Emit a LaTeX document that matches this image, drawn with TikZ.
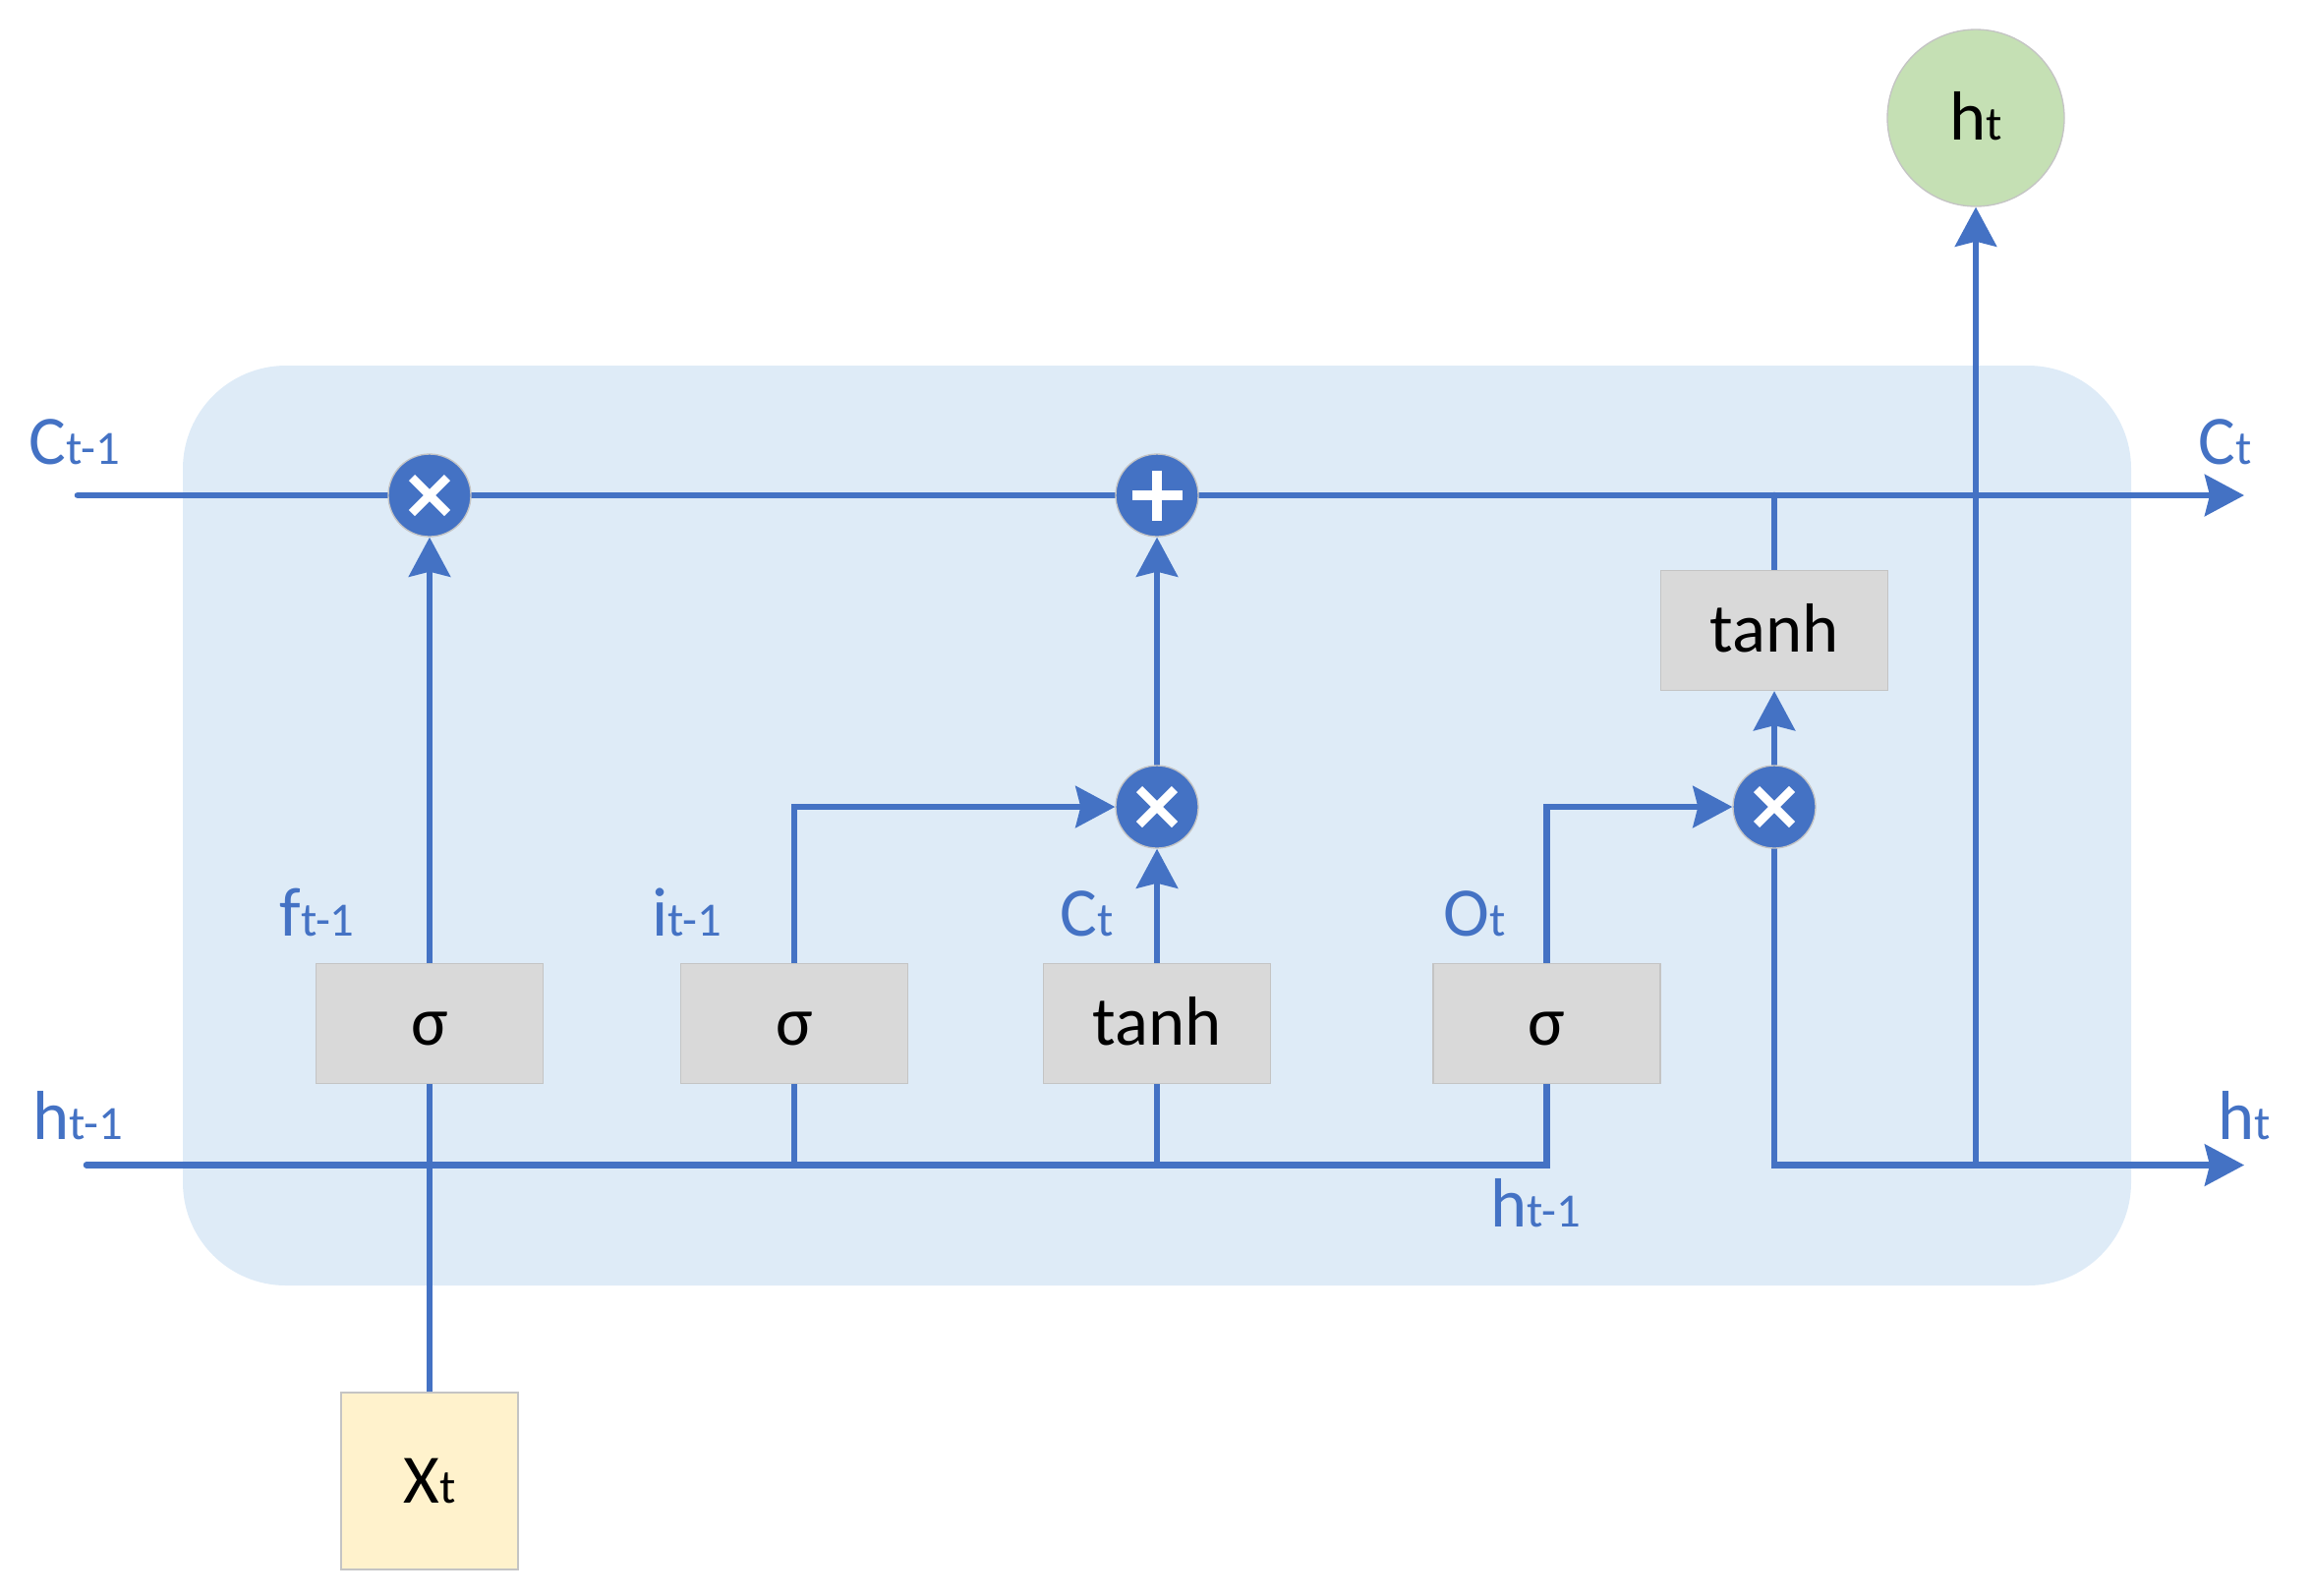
\documentclass[tikz,border=0pt]{standalone}
\usepackage{fontspec}
\setmainfont{Carlito}
\usetikzlibrary{arrows.meta}
\definecolor{lblue}{HTML}{4472C4}
\definecolor{bgblue}{HTML}{DEEBF7}
\definecolor{boxgray}{HTML}{D9D9D9}
\definecolor{edgegray}{HTML}{C4C4C4}
\definecolor{xtyellow}{HTML}{FFF2CC}
\definecolor{htgreen}{HTML}{C5E0B4}
\pgfdeclarelayer{bg}
\pgfdeclarelayer{wires}
\pgfsetlayers{bg,wires,main}
\newcommand\mainsz{\fontsize{21.2}{25}\selectfont}
\newcommand\subsz{\fontsize{14.6}{17}\selectfont}
\newcommand\lstxt[2]{{\mainsz #1}{\subsz #2}}
\begin{document}
\begin{tikzpicture}[x=0.3pt,y=-0.3pt,
  wire/.style={draw=lblue, line width=2pt, line cap=round},
  arr/.style={wire, -{Stealth[length=12pt,width=12.6pt,inset=1.5pt]}},
  gate/.style={draw=edgegray, line width=0.4pt, fill=boxgray, minimum width=69.3pt, minimum height=36.6pt, inner sep=0pt, text height=15pt, text depth=1.8pt, font=\mainsz},
  op/.style={circle, draw=edgegray, line width=0.4pt, fill=lblue, minimum size=25.2pt, inner sep=0pt},
  sym/.style={draw=white, line width=2.6pt},
  lab/.style={anchor=base west, inner sep=0pt, text=lblue},
]
\useasboundingbox (0,0) rectangle (2351,1623);
\begin{pgfonlayer}{bg}
\fill[bgblue, rounded corners=31.5pt] (186,372) rectangle (2168,1308);
\end{pgfonlayer}

\coordinate (cin) at (79,504);
\coordinate (cout) at (2283,504);
\coordinate (hin) at (88,1185.5);
\coordinate (hout) at (2283,1185.5);

\node[op] (m1) at (437,504) {};
\node[op] (pl) at (1177,504) {};
\node[op] (m2) at (1177,821) {};
\node[op] (m3) at (1805,821) {};
\node[gate] (tT) at (1805,641.5) {tanh};
\node[gate] (s1) at (437,1041.7) {σ};
\node[gate] (s2) at (808,1041.7) {σ};
\node[gate] (t2) at (1177,1041.7) {tanh};
\node[gate] (s3) at (1573.5,1041.7) {σ};
\node[draw=edgegray, line width=0.4pt, fill=xtyellow, minimum size=54pt, inner sep=0pt, text height=15pt, text depth=1.8pt, font=\mainsz] (xt) at (437,1507) {X{\subsz t}};
\node[circle, draw=edgegray, line width=0.4pt, fill=htgreen, minimum size=54pt, inner sep=0pt, text height=15pt, text depth=1.8pt, font=\mainsz] (ht) at (2010,120) {h{\subsz t}};

\begin{pgfonlayer}{wires}
\draw[arr] (cin) -- (cout);
\draw[wire] (hin) -| (s3.south);
\draw[wire] (xt.north) -- (s1.south);
\draw[wire] (s2.south) -- (s2.south |- hin);
\draw[wire] (t2.south) -- (t2.south |- hin);
\draw[arr] (s1.north) -- (m1.south);
\draw[arr] (s2.north) |- (m2.west);
\draw[arr] (t2.north) -- (m2.south);
\draw[arr] (m2.north) -- (pl.south);
\draw[arr] (s3.north) |- (m3.west);
\draw[arr] (m3.north) -- (tT.south);
\draw[wire] (tT.north) -- (tT.north |- cin);
\draw[arr] (m3.south) |- (hout);
\draw[arr] (ht.south |- hout) -- (ht.south);
\end{pgfonlayer}

\foreach \n in {m1,m2,m3}
  \draw[sym] ([shift={(-18,-18)}]\n.center) -- ([shift={(18,18)}]\n.center)
             ([shift={(-18,18)}]\n.center) -- ([shift={(18,-18)}]\n.center);
\draw[sym, line width=2.85pt] ([shift={(-25.5,0)}]pl.center) -- ([shift={(25.5,0)}]pl.center)
             ([shift={(0,-25.5)}]pl.center) -- ([shift={(0,25.5)}]pl.center);

\node[lab] (lc0) at (29,472) {\lstxt{C}{t-1}};
\node[lab] (lc1) at (2236,472) {\lstxt{C}{t}};
\node[lab] (lh0) at (33,1159) {\lstxt{h}{t-1}};
\node[lab] (lh1) at (2256,1159) {\lstxt{h}{t}};
\node[lab] (lh2) at (1516,1248) {\lstxt{h}{t-1}};
\node[lab] (lf) at (284,952.7) {\lstxt{f}{t-1}};
\node[lab] (li) at (663,952.7) {\lstxt{i}{t-1}};
\node[lab] (lct) at (1078,952.7) {\lstxt{C}{t}};
\node[lab] (lo) at (1468,952.7) {\lstxt{O}{t}};
\end{tikzpicture}
\end{document}
